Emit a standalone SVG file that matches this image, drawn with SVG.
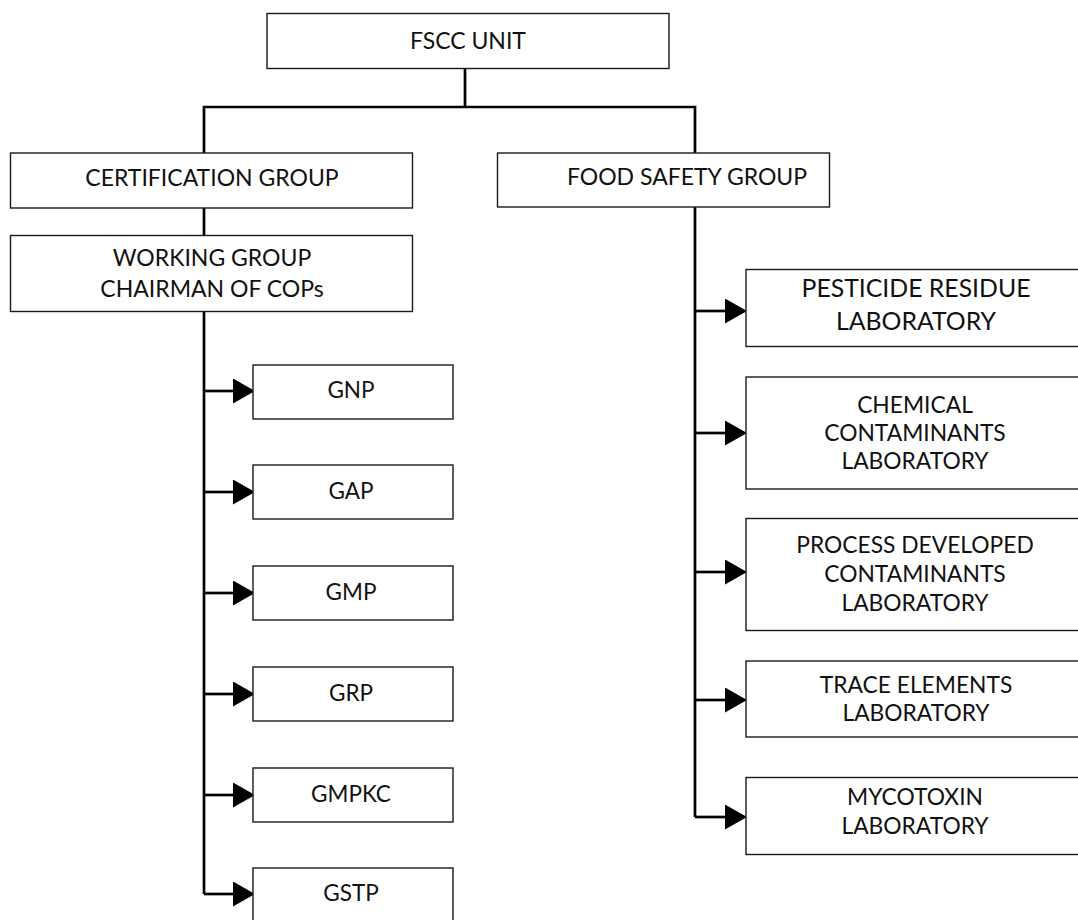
<svg xmlns="http://www.w3.org/2000/svg" width="1078" height="920" viewBox="0 0 1078 920">
<style>
.box{fill:#fff;stroke:#1a1a1a;stroke-width:1.4}
.t{font-family:Lato,"Open Sans","Liberation Sans",sans-serif;font-size:22.8px;fill:#111;text-anchor:middle}
.s{font-size:22.5px}
.b{font-size:23px}
.p{font-size:24.8px}
.c{fill:none;stroke:#000;stroke-width:2.7}
</style>
<defs>
<marker id="ah" markerUnits="userSpaceOnUse" markerWidth="22" markerHeight="26" refX="0" refY="12.5" orient="auto">
<path d="M0,0 L22,12.5 L0,25 Z" fill="#000"/>
</marker>
</defs>
<rect width="1078" height="920" fill="#fff"/>
<g id="connectors">
<path class="c" d="M465,68 V107 M204,153 V107 H695 V153"/>
<path class="c" d="M204,208 V236"/>
<path class="c" d="M204,312 V894"/>
<path class="c" d="M695,207 V817"/>
<path class="c" marker-end="url(#ah)" d="M204,391 H233"/>
<path class="c" marker-end="url(#ah)" d="M204,492 H233"/>
<path class="c" marker-end="url(#ah)" d="M204,593 H233"/>
<path class="c" marker-end="url(#ah)" d="M204,694 H233"/>
<path class="c" marker-end="url(#ah)" d="M204,795 H233"/>
<path class="c" marker-end="url(#ah)" d="M204,894 H233"/>
<path class="c" marker-end="url(#ah)" d="M695,311 H725"/>
<path class="c" marker-end="url(#ah)" d="M695,433 H725"/>
<path class="c" marker-end="url(#ah)" d="M695,572 H725"/>
<path class="c" marker-end="url(#ah)" d="M695,700 H725"/>
<path class="c" marker-end="url(#ah)" d="M695,817 H725"/>
</g>
<g id="fscc"><rect class="box" x="267" y="13.5" width="402" height="55"/><text class="t b" x="468" y="48.5">FSCC UNIT</text></g>
<g id="cert"><rect class="box" x="10.5" y="153" width="402" height="55"/><text class="t b" x="212" y="185.5">CERTIFICATION GROUP</text></g>
<g id="food"><rect class="box" x="497.5" y="153" width="332" height="54"/><text class="t b" x="687" y="185">FOOD SAFETY GROUP</text></g>
<g id="wg"><rect class="box" x="10.5" y="235.5" width="402" height="76"/><text class="t b" x="212" y="266">WORKING GROUP</text><text class="t b" x="212" y="297">CHAIRMAN OF COPs</text></g>
<g id="gnp"><rect class="box" x="253" y="365" width="200" height="54"/><text class="t s" x="351" y="398">GNP</text></g>
<g id="gap"><rect class="box" x="253" y="465" width="200" height="54"/><text class="t s" x="351" y="499">GAP</text></g>
<g id="gmp"><rect class="box" x="253" y="566" width="200" height="54"/><text class="t s" x="351" y="600">GMP</text></g>
<g id="grp"><rect class="box" x="253" y="667" width="200" height="54"/><text class="t s" x="351" y="701">GRP</text></g>
<g id="gmpkc"><rect class="box" x="253" y="768" width="200" height="54"/><text class="t s" x="351" y="802">GMPKC</text></g>
<g id="gstp"><rect class="box" x="253" y="868" width="200" height="56"/><text class="t s" x="351" y="901">GSTP</text></g>
<g id="pest"><rect class="box" x="746" y="269.5" width="340" height="77"/><text class="t p" x="916" y="297">PESTICIDE RESIDUE</text><text class="t p" x="916" y="330">LABORATORY</text></g>
<g id="chem"><rect class="box" x="746" y="377" width="340" height="112"/><text class="t" x="915" y="413">CHEMICAL</text><text class="t" x="915" y="441">CONTAMINANTS</text><text class="t" x="915" y="469">LABORATORY</text></g>
<g id="proc"><rect class="box" x="746" y="518.5" width="340" height="112"/><text class="t" x="915" y="553">PROCESS DEVELOPED</text><text class="t" x="915" y="582">CONTAMINANTS</text><text class="t" x="915" y="611">LABORATORY</text></g>
<g id="trace"><rect class="box" x="746" y="661" width="340" height="76"/><text class="t" x="916" y="693">TRACE ELEMENTS</text><text class="t" x="916" y="721">LABORATORY</text></g>
<g id="myco"><rect class="box" x="746" y="777.5" width="340" height="77"/><text class="t" x="915" y="805">MYCOTOXIN</text><text class="t" x="915" y="834">LABORATORY</text></g>
</svg>
